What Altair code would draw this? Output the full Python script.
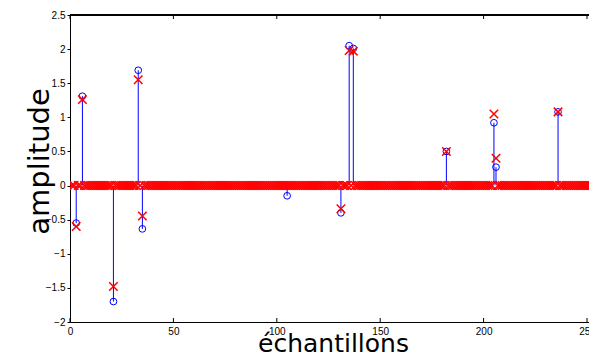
import altair as alt
import pandas as pd

# sample indices of the stem plot
n_samples = 256
# nonzero positions of the original (blue circles) signal
spike_idx = [3, 6, 21, 33, 35, 105, 131, 135, 137, 182, 205, 206, 236]
orig_vals = [-0.55, 1.31, -1.70, 1.69, -0.635, -0.15, -0.40, 2.05, 2.01, 0.50, 0.92, 0.27, 1.08]
# reconstruction (red crosses) at the same positions
rec_vals = [-0.60, 1.26, -1.48, 1.55, -0.445, 0.0, -0.34, 1.98, 1.97, 0.50, 1.05, 0.40, 1.08]

x_ticks = [0, 50, 100, 150, 200, 250]
y_ticks = [-2, -1.5, -1, -0.5, 0, 0.5, 1, 1.5, 2, 2.5]

idx = list(range(1, n_samples + 1))
rec_full = {i: 0.0 for i in idx}
for i, r in zip(spike_idx, rec_vals):
    rec_full[i] = r

df = pd.DataFrame({"n": idx, "rec": [rec_full[i] for i in idx]})
stems = pd.DataFrame({"n": spike_idx, "orig": orig_vals})
ticks_df = pd.DataFrame({"t": x_ticks})

W, H = 519, 307
xmax = W / 2.068
xs = alt.Scale(domain=[0, xmax], nice=False, zero=False)
ys = alt.Scale(domain=[-2, 2.5], nice=False, zero=False)

lab = "replace(format(datum.value, '~g'), '-', '\u2212')"

xaxis = alt.Axis(values=x_ticks, ticks=False, labelFont="Liberation Sans", labelFontSize=10,
                 labelColor="black", labelPadding=4, domainColor="black", domainWidth=1,
                 grid=False, title="échantillons", titleFont="DejaVu Sans", titleFontSize=25,
                 titleFontWeight="normal", titleColor="black", titleX=263, titleY=29,
                 titleBaseline="alphabetic", titleAlign="center", labelFlush=False,
                 labelOverlap=False)
yaxis = alt.Axis(values=y_ticks, tickSize=3, tickColor="black", labelFont="Liberation Sans",
                 labelFontSize=10, labelColor="black", labelPadding=2, domainColor="black",
                 domainWidth=1, grid=False, title="amplitude", titleFont="DejaVu Sans",
                 titleFontSize=29, titleFontWeight="normal", titleColor="black",
                 titleX=-22, titleY=146, titleBaseline="alphabetic", titleAlign="center",
                 labelFlush=False, labelOverlap=False, labelExpr=lab)

stem_layer = alt.Chart(stems).mark_rule(color="#0000ff", strokeWidth=1, clip=True).encode(
    x=alt.X("n:Q", scale=xs, axis=xaxis),
    y=alt.Y("orig:Q", scale=ys, axis=yaxis),
    y2=alt.datum(0),
)
circ_layer = alt.Chart(stems).mark_point(shape="circle", size=45, filled=False, color="#0000ff",
                                         strokeWidth=1, opacity=1, clip=True).encode(
    x=alt.X("n:Q", scale=xs, axis=xaxis), y=alt.Y("orig:Q", scale=ys, axis=yaxis))
cross_layer = alt.Chart(df).mark_point(shape="M-1,-1L1,1M-1,1L1,-1", size=72, filled=False,
                                       color="#ff0000", strokeWidth=1.5, opacity=1,
                                       clip=True).encode(
    x=alt.X("n:Q", scale=xs, axis=xaxis), y=alt.Y("rec:Q", scale=ys, axis=yaxis))

bottom_ticks = alt.Chart(ticks_df).mark_rule(color="black", strokeWidth=1).encode(
    x=alt.X("t:Q", scale=xs, axis=xaxis), y=alt.value(H), y2=alt.value(H - 4))
top_ticks = alt.Chart(ticks_df).mark_rule(color="black", strokeWidth=1).encode(
    x=alt.X("t:Q", scale=xs, axis=xaxis), y=alt.value(0), y2=alt.value(4))
top_line = alt.Chart(ticks_df).mark_rule(color="black", strokeWidth=1.2).encode(
    x=alt.value(0), x2=alt.value(W), y=alt.value(0))

chart = alt.layer(stem_layer, circ_layer, cross_layer, bottom_ticks, top_ticks, top_line).properties(
    width=W, height=H,
    autosize=alt.AutoSizeParams(type="none"),
    padding={"left": 70, "top": 15, "right": 0, "bottom": 33},
    background="white",
).configure_view(stroke=None).configure_axis(labelOverlap=False)

chart.save("out.html", embed_options={"renderer": "svg", "actions": False})
